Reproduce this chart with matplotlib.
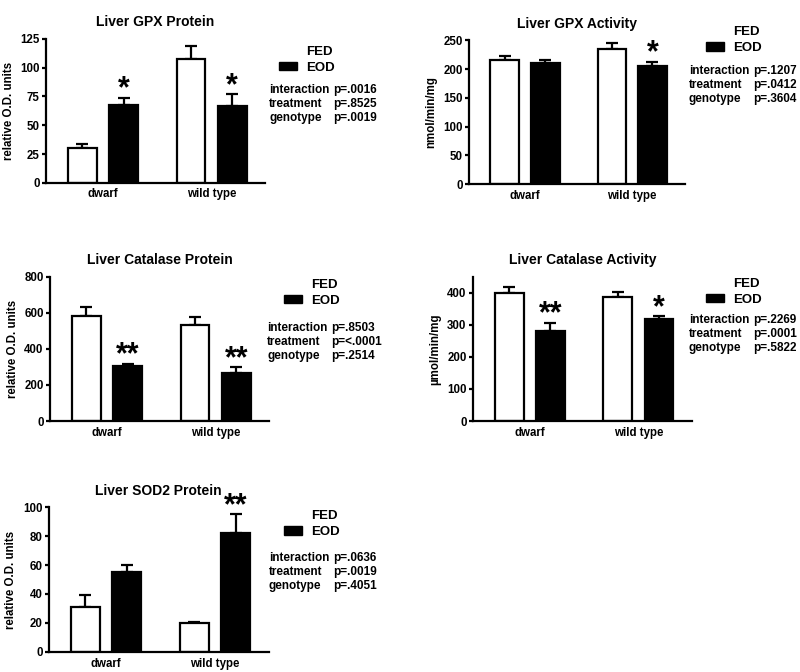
import numpy as np
import matplotlib.pyplot as plt
from matplotlib.patches import Patch

plt.rcParams['font.family'] = ['Liberation Sans', 'DejaVu Sans']
plt.rcParams['font.weight'] = 'bold'
plt.rcParams['axes.labelweight'] = 'bold'

groups = ['dwarf', 'wild type']

# panel data: means and upper error (mean + sem) for FED and EOD
titles = ['Liver GPX Protein', 'Liver GPX Activity', 'Liver Catalase Protein',
          'Liver Catalase Activity', 'Liver SOD2 Protein']
ylabels = ['relative O.D. units', 'nmol/min/mg', 'relative O.D. units',
           'µmol/min/mg', 'relative O.D. units']
fed_mean = [[30, 108], [215, 235], [585, 535], [400, 387], [31, 20]]
fed_err = [[4, 11], [7, 11], [45, 40], [18, 15], [8, 0.8]]
eod_mean = [[68, 67], [211, 206], [305, 268], [282, 318], [55, 82]]
eod_err = [[6, 10], [4, 7], [13, 32], [25, 9], [5, 13]]
eod_stars = [['*', '*'], ['', '*'], ['**', '**'], ['**', '*'], ['', '**']]
ymax = [125, 250, 800, 450, 100]
yticks = [[0, 25, 50, 75, 100, 125], [0, 50, 100, 150, 200, 250],
          [0, 200, 400, 600, 800], [0, 100, 200, 300, 400], [0, 20, 40, 60, 80, 100]]
stats = [['.0016', '.8525', '.0019'], ['.1207', '.0412', '.3604'],
         ['.8503', '<.0001', '.2514'], ['.2269', '.0001', '.5822'],
         ['.0636', '.0019', '.4051']]
stat_names = ['interaction', 'treatment', 'genotype']

# layout: axes rectangles in figure fractions, legend / stats placement in axes fractions
rects = [[0.0575, 0.728, 0.274, 0.214],
         [0.586, 0.726, 0.270, 0.214],
         [0.0625, 0.3735, 0.274, 0.2145],
         [0.591, 0.3735, 0.274, 0.2145],
         [0.061, 0.0298, 0.275, 0.2157]]
leg_x = [1.064, 1.097, 1.068, 1.064, 1.068]
leg_y = [0.924, 1.07, 0.958, 0.965, 0.95]
st_x = [1.018, 1.018, 0.99, 0.986, 1.0]
st_y = [0.646, 0.785, 0.646, 0.70, 0.648]

fig = plt.figure(figsize=(8, 6.72), dpi=100)

x = np.arange(len(groups))
off = 0.19
w = 0.265

for i in range(5):
    ax = fig.add_axes(rects[i])
    ax.bar(x - off, fed_mean[i], w, color='white', edgecolor='black', linewidth=1.6, zorder=2)
    ax.bar(x + off, eod_mean[i], w, color='black', edgecolor='black', linewidth=1.6, zorder=2)
    ax.errorbar(x - off, fed_mean[i], yerr=[np.zeros(2), fed_err[i]], fmt='none',
                ecolor='black', elinewidth=1.6, capsize=4.3, capthick=1.6, zorder=1)
    ax.errorbar(x + off, eod_mean[i], yerr=[np.zeros(2), eod_err[i]], fmt='none',
                ecolor='black', elinewidth=1.6, capsize=4.3, capthick=1.6, zorder=1)
    for j in range(2):
        if eod_stars[i][j]:
            top = eod_mean[i][j] + eod_err[i][j]
            ax.annotate(eod_stars[i][j], (x[j] + off, top), xytext=(0, -5),
                        textcoords='offset points', ha='center', va='bottom',
                        fontsize=22, fontweight='bold', annotation_clip=False)
    ax.set_xlim(-0.525, 1.493)
    ax.set_ylim(0, ymax[i])
    ax.set_yticks(yticks[i])
    ax.set_xticks(x)
    ax.set_xticklabels(groups)
    ax.tick_params(axis='x', length=0, pad=4, labelsize=8.3)
    ax.tick_params(axis='y', length=3, width=1.6, pad=1.5, labelsize=8.3)
    for s in ['top', 'right']:
        ax.spines[s].set_visible(False)
    for s in ['left', 'bottom']:
        ax.spines[s].set_linewidth(1.6)
    ax.set_ylabel(ylabels[i], fontsize=8.3, labelpad=4)
    ax.set_title(titles[i], fontsize=10, fontweight='bold', pad=9)

    handles = [Patch(facecolor='white', edgecolor='white', label='FED'),
               Patch(facecolor='black', edgecolor='black', label='EOD')]
    ax.legend(handles=handles, loc='upper left', bbox_to_anchor=(leg_x[i], leg_y[i] + 0.03),
              frameon=False, fontsize=9.5, handlelength=1.36, handleheight=0.65,
              handletextpad=0.68, labelspacing=0.3, borderaxespad=0, borderpad=0)

    p_dx = 64 / (rects[i][2] * 800)
    for k in range(3):
        ax.text(st_x[i], st_y[i] - k * 0.097, stat_names[k], transform=ax.transAxes,
                fontsize=8.5, ha='left', va='center')
        ax.text(st_x[i] + p_dx, st_y[i] - k * 0.097, 'p=' + stats[i][k], transform=ax.transAxes,
                fontsize=8.5, ha='left', va='center')

fig.savefig('out.png', dpi=100)
